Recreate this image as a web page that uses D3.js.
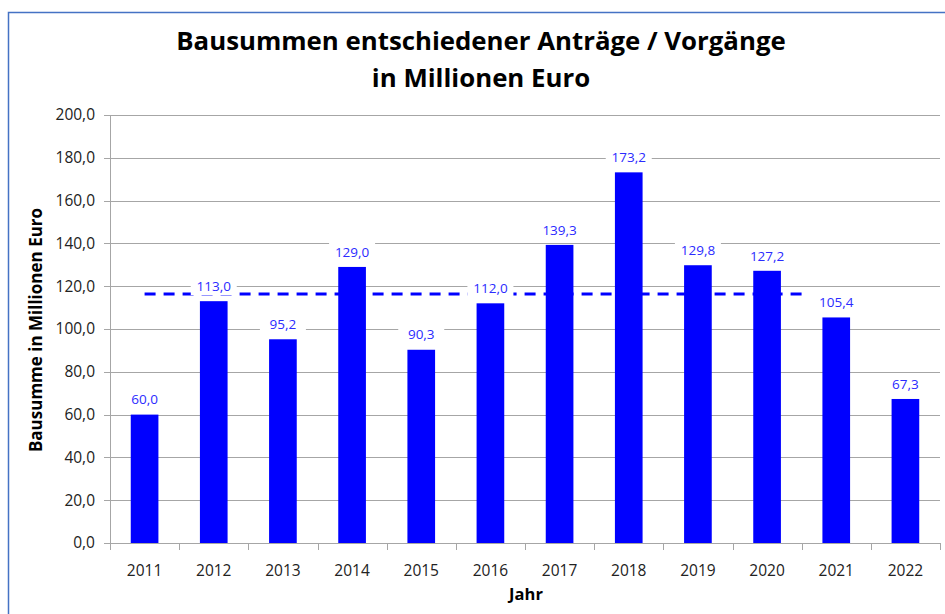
<!DOCTYPE html>
<html>
<head>
<meta charset="utf-8">
<script src="https://cdn.jsdelivr.net/npm/d3@7"></script>
<style>
  body { margin: 0; background: #fff; }
  text { font-family: "Open Sans", "Noto Sans", sans-serif; }
</style>
</head>
<body>
<svg width="945" height="614"></svg>
<script>
// Daten
const years = ["2011", "2012", "2013", "2014", "2015", "2016", "2017", "2018", "2019", "2020", "2021", "2022"];
const values = [60.0, 113.0, 95.2, 129.0, 90.3, 112.0, 139.3, 173.2, 129.8, 127.2, 105.4, 67.3];
const avgValue = 116.3; // Durchschnitt 2011-2020 (gestrichelte Linie)
const avgYears = ["2011", "2020"];
const yTicks = [0, 20, 40, 60, 80, 100, 120, 140, 160, 180, 200];

const svg = d3.select("svg"),
    width = +svg.attr("width"),
    height = +svg.attr("height");

const plotLeft = 110, plotRight = 940, plotTop = 115, plotBottom = 543;
const fmt = v => d3.format(".1f")(v).replace(".", ",");

// Rahmen
svg.append("rect")
    .attr("x", 8.5).attr("y", 12.5)
    .attr("width", 1000).attr("height", 700)
    .attr("fill", "none")
    .attr("stroke", "#4472c4")
    .attr("stroke-width", 1.5);

// Skalen
const x = d3.scaleBand().domain(years).range([plotLeft, plotRight]).paddingInner(0.6).paddingOuter(0.3);
const xCat = d3.scaleBand().domain(years).range([plotLeft, plotRight]);
const y = d3.scaleLinear().domain([0, 200]).range([plotBottom, plotTop]);

// Gitterlinien
svg.append("g")
    .selectAll("line")
    .data(yTicks)
    .join("line")
    .attr("x1", plotLeft - 6).attr("x2", plotRight)
    .attr("y1", d => Math.round(y(d)) + 0.5)
    .attr("y2", d => Math.round(y(d)) + 0.5)
    .attr("stroke", "#a6a6a6")
    .attr("stroke-width", 1);

// Y-Achse
svg.append("line")
    .attr("x1", plotLeft + 0.5).attr("x2", plotLeft + 0.5)
    .attr("y1", plotTop).attr("y2", plotBottom)
    .attr("stroke", "#a6a6a6");

svg.append("g")
    .selectAll("text")
    .data(yTicks)
    .join("text")
    .attr("x", plotLeft - 15)
    .attr("y", d => y(d))
    .attr("dy", "0.35em")
    .attr("text-anchor", "end")
    .attr("font-size", 15.5)
    .attr("fill", "#222")
    .text(d => fmt(d));

// X-Achse Ticks zwischen Kategorien
const bounds = years.map(d => xCat(d)).concat([plotRight]);
svg.append("g")
    .selectAll("line")
    .data(bounds)
    .join("line")
    .attr("x1", d => Math.round(d) + 0.5).attr("x2", d => Math.round(d) + 0.5)
    .attr("y1", plotBottom).attr("y2", plotBottom + 7)
    .attr("stroke", "#a6a6a6");

svg.append("g")
    .selectAll("text")
    .data(years)
    .join("text")
    .attr("x", d => xCat(d) + xCat.bandwidth() / 2)
    .attr("y", 576)
    .attr("text-anchor", "middle")
    .attr("font-size", 15.5)
    .attr("fill", "#222")
    .text(d => d);

// Balken
svg.append("g")
    .selectAll("rect")
    .data(values)
    .join("rect")
    .attr("x", (d, i) => x(years[i]))
    .attr("width", x.bandwidth())
    .attr("y", d => y(d))
    .attr("height", d => plotBottom - y(d))
    .attr("fill", "#0000ff");

// Durchschnittslinie
const xa = xCat(avgYears[0]) + xCat.bandwidth() / 2;
const xb = xCat(avgYears[1]) + xCat.bandwidth() * 1.08;
svg.append("line")
    .attr("x1", xa).attr("x2", xb)
    .attr("y1", y(avgValue)).attr("y2", y(avgValue))
    .attr("stroke", "#0000ff")
    .attr("stroke-width", 3)
    .attr("stroke-dasharray", "11,8");

// Datenbeschriftungen mit weissem Hintergrund
const labels = svg.append("g")
    .selectAll("g")
    .data(values)
    .join("g")
    .attr("transform", (d, i) => "translate(" + (xCat(years[i]) + xCat.bandwidth() / 2) + "," + (y(d) - 15) + ")");

labels.append("rect")
    .attr("x", -23).attr("y", -9)
    .attr("width", 46).attr("height", 18)
    .attr("fill", "#fff");

labels.append("text")
    .attr("text-anchor", "middle")
    .attr("dy", "0.35em")
    .attr("font-size", 13.5)
    .attr("fill", "#2b2bff")
    .text(d => fmt(d));

// Titel
svg.append("text")
    .attr("x", 481).attr("y", 50)
    .attr("text-anchor", "middle")
    .attr("font-size", 25.8)
    .attr("font-weight", "bold")
    .attr("fill", "#000")
    .text("Bausummen entschiedener Anträge / Vorgänge");
svg.append("text")
    .attr("x", 481).attr("y", 87)
    .attr("text-anchor", "middle")
    .attr("font-size", 25.8)
    .attr("font-weight", "bold")
    .attr("fill", "#000")
    .text("in Millionen Euro");

// Achsentitel
svg.append("text")
    .attr("x", 526).attr("y", 600)
    .attr("text-anchor", "middle")
    .attr("font-size", 16.5)
    .attr("font-weight", "bold")
    .text("Jahr");

svg.append("text")
    .attr("transform", "translate(42,330) rotate(-90)")
    .attr("text-anchor", "middle")
    .attr("font-size", 17)
    .attr("font-weight", "bold")
    .text("Bausumme in Millionen Euro");
</script>
</body>
</html>
